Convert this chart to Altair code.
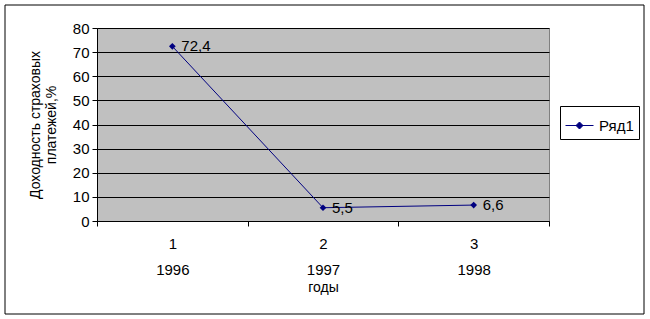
import altair as alt
import pandas as pd

categories = ["1", "2", "3"]
years = ["1996", "1997", "1998"]
values = [72.4, 5.5, 6.6]
series = ["Ряд1", "Ряд1", "Ряд1"]

df = pd.DataFrame({"cat": categories, "year": years, "v": values, "series": series})

FONT = "Liberation Sans"
year_map = "{" + ",".join(f"'{c}':'{y}'" for c, y in zip(categories, years)) + "}"
label_expr = f"[datum.label, {year_map}[datum.label]]"

x_enc = alt.X(
    "cat:O",
    title="годы",
    scale=alt.Scale(paddingInner=0, paddingOuter=0),
    axis=alt.Axis(
        labelAngle=0,
        labelExpr=label_expr,
        labelFont=FONT,
        labelFontSize=15,
        labelColor="black",
        labelLineHeight=26,
        labelPadding=10,
        tickBand="extent",
        tickColor="black",
        tickSize=5,
        domainColor="black",
        titleFont=FONT,
        titleFontSize=14,
        titleFontWeight="normal",
        titleColor="black",
        titlePadding=3,
        grid=False,
    ),
)
y_enc = alt.Y(
    "v:Q",
    scale=alt.Scale(domain=[0, 80]),
    title=["Доходность страховых", "платежей,%"],
    axis=alt.Axis(
        values=list(range(0, 81, 10)),
        labelFont=FONT,
        labelFontSize=15,
        labelColor="black",
        labelPadding=3,
        tickColor="black",
        tickSize=5,
        domainColor="black",
        gridColor="black",
        gridWidth=1,
        titleFont=FONT,
        titleFontSize=14,
        titleFontWeight="normal",
        titleColor="black",
        titlePadding=14,
        titleLineHeight=16,
    ),
)
color_enc = alt.Color(
    "series:N",
    scale=alt.Scale(range=["#000080"]),
    legend=alt.Legend(
        title=None,
        orient="none",
        legendX=463,
        legendY=78,
        strokeColor="black",
        padding=5,
        labelFont=FONT,
        labelFontSize=15,
        labelColor="black",
        symbolType="M-1,0H1M0,-0.25L0.25,0L0,0.25L-0.25,0Z",
        symbolSize=784,
        symbolStrokeWidth=1,
        symbolFillColor="#000080",
        symbolStrokeColor="#000080",
        labelOffset=5,
    ),
)

base = alt.Chart(df)
line = base.mark_line(strokeWidth=1).encode(x=x_enc, y=y_enc, color=color_enc)
pts = base.mark_point(shape="diamond", filled=True, size=45, opacity=1).encode(
    x=x_enc, y=y_enc, color=color_enc
)
txt = base.transform_calculate(
    lbl="replace(format(datum.v, '.1f'), '.', ',')"
).mark_text(align="left", baseline="middle", dx=9, font=FONT, fontSize=15, color="black").encode(
    x=x_enc, y=y_enc, text="lbl:N"
)
border = alt.Chart(pd.DataFrame({"a": [0]})).mark_rect(
    fill=None, stroke="black", strokeWidth=1
).encode(
    x=alt.value(-92), x2=alt.value(547), y=alt.value(-23), y2=alt.value(286)
)

chart = (
    alt.layer(border, line, pts, txt)
    .properties(
        width=452,
        height=193,
        padding={"left": 97, "top": 28, "right": 101, "bottom": 98},
        autosize=alt.AutoSizeParams(type="none"),
        background="white",
    )
    .configure_view(fill="#C0C0C0", stroke="#808080", strokeWidth=1)
)

chart.save("out.html", embed_options={"renderer": "svg", "actions": False})
